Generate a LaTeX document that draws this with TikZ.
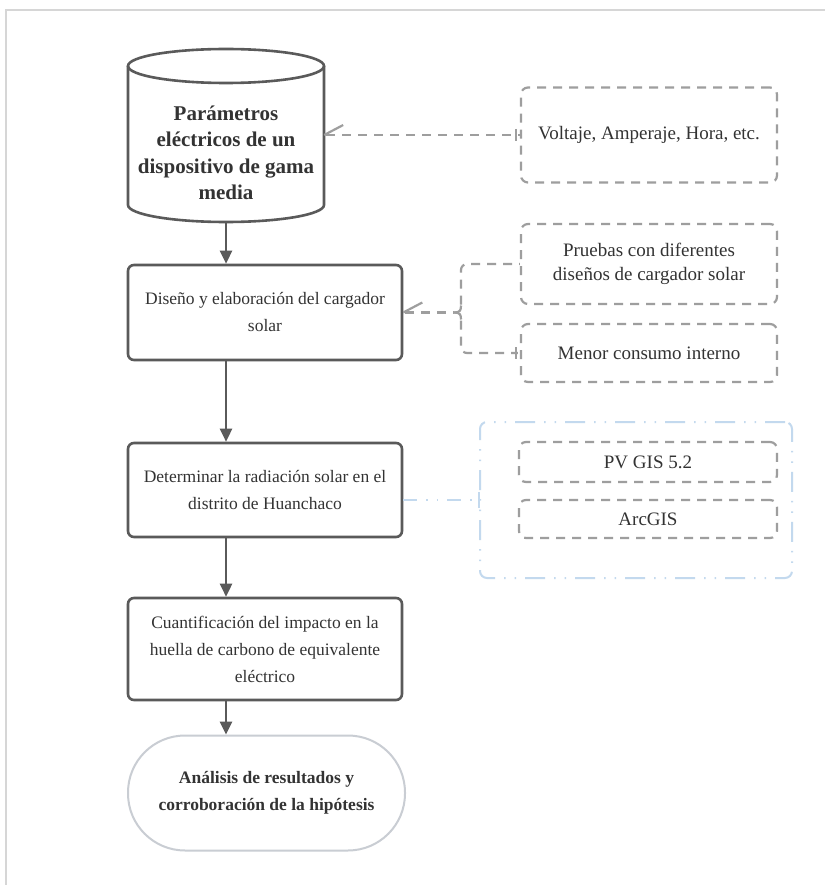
\documentclass[tikz,border=0pt]{standalone}
\usepackage{fontspec}
\setmainfont{Liberation Serif}
\usetikzlibrary{arrows.meta,calc}
\definecolor{maingray}{HTML}{5A5A5A}
\definecolor{textgray}{HTML}{333333}
\definecolor{dashgray}{HTML}{9E9E9E}
\definecolor{framegray}{HTML}{D6D6D6}
\definecolor{termgray}{HTML}{C9CDD3}
\definecolor{lightblue}{HTML}{C3D9EE}
\tikzset{
  mainbox/.style={draw=maingray, line width=2.6pt, rounded corners=6pt, align=center,
    text=textgray, font=\fontsize{17.5}{27}\selectfont, inner sep=0pt},
  sidebox/.style={draw=dashgray, line width=2.2pt, rounded corners=7pt, align=center,
    dash pattern=on 9pt off 7pt, text=textgray, font=\fontsize{19}{24}\selectfont, inner sep=0pt},
  termbox/.style={draw=termgray, line width=2pt, rounded corners=57pt, align=center,
    text=textgray, font=\bfseries\fontsize{17.5}{27}\selectfont, inner sep=0pt},
  groupbox/.style={draw=lightblue, line width=2pt, rounded corners=7pt,
    dash pattern=on 20pt off 9pt on 1.5pt off 9pt on 1.5pt off 9pt, inner sep=0pt},
  arr/.style={draw=maingray, line width=2.6pt, -{Triangle[width=12pt,length=13pt]}},
  dashlink/.style={draw=dashgray, line width=2.2pt, dash pattern=on 9pt off 7pt},
  solidgray/.style={draw=dashgray, line width=2.2pt},
  bluelink/.style={draw=lightblue, line width=2pt, dash pattern=on 14pt off 9pt on 1.5pt off 9pt on 1.5pt off 9pt},
}
\begin{document}
\begin{tikzpicture}[x=1pt,y=-1pt]
\useasboundingbox (0,0) rectangle (824,885);
\fill[white] (0,0) rectangle (824,885);
% outer frame
\draw[framegray, line width=2pt] (6,886) -- (6,10) -- (825,10);

% cylinder
\node[minimum width=196pt, minimum height=174pt, inner sep=0pt] (cyl) at (226,135) {};
\draw[maingray, line width=2.6pt, fill=white]
  (128,66) -- (128,205) arc[start angle=180, end angle=0, x radius=98, y radius=17]
  -- (324,66);
\draw[maingray, line width=2.6pt] (226,66) ellipse[x radius=98, y radius=17];
\node[align=center, text=textgray, font=\bfseries\fontsize{21}{26.5}\selectfont] (cyltext) at (226,153)
  {Parámetros\\eléctricos de un\\dispositivo de gama\\media};

% main boxes
\node[mainbox, minimum width=274pt, minimum height=95pt] (b2) at (265,312.5)
  {Diseño y elaboración del cargador\\solar};
\node[mainbox, minimum width=274pt, minimum height=94pt] (b3) at (265,490)
  {Determinar la radiación solar en el\\distrito de Huanchaco};
\node[mainbox, minimum width=274pt, minimum height=102pt] (b4) at (265,649)
  {Cuantificación del impacto en la\\huella de carbono de equivalente\\eléctrico};
\node[termbox, minimum width=277pt, minimum height=115pt] (b5) at (266.5,793)
  {Análisis de resultados y\\corroboración de la hipótesis};

% arrows
\draw[arr] (cyl.south) -- (cyl.south |- b2.north);
\draw[arr] (cyl.south |- b2.south) -- (cyl.south |- b3.north);
\draw[arr] (cyl.south |- b3.south) -- (cyl.south |- b4.north);
\draw[arr] (cyl.south |- b4.south) -- (cyl.south |- b5.north);

% side boxes
\node[sidebox, minimum width=256pt, minimum height=95pt] (sA) at (649,135)
  {Voltaje, Amperaje, Hora, etc.};
\node[sidebox, minimum width=256pt, minimum height=80pt] (sB) at (649,264)
  {Pruebas con diferentes\\diseños de cargador solar};
\node[sidebox, minimum width=256pt, minimum height=58pt] (sC) at (649,353)
  {Menor consumo interno};
\node[groupbox, minimum width=312pt, minimum height=156pt] (grp) at (636,500) {};
\node[sidebox, minimum width=258pt, minimum height=40pt] (pv) at (648,462)
  {PV GIS 5.2};
\node[sidebox, minimum width=258pt, minimum height=38pt] (arc) at (648,519)
  {ArcGIS};

% connector cylinder -> A
\draw[dashlink] (cyl.east) ++(2,0) -- (sA.west);
\draw[solidgray] (cyl.east) -- ++(19,-10);
\draw[solidgray] ($(sA.west)+(-4,-6)$) -- ($(sA.west)+(-4,6)$);

% connector b2 -> bracket -> B, C
\coordinate (br) at (461,312.5);
\draw[dashlink] (b2.east) ++(2,0) -- ($(br)+(-7,0)$);
\draw[solidgray] (b2.east) -- ++(19,-10);
\draw[solidgray] ($(br)+(-7,0)$) .. controls ($(br)+(-1,0)$) and ($(br)+(0,-2)$) .. ($(br)+(0,-7)$);
\draw[solidgray] ($(br)+(-7,0)$) .. controls ($(br)+(-1,0)$) and ($(br)+(0,2)$) .. ($(br)+(0,7)$);
\draw[dashlink, rounded corners=6pt] ($(br)+(0,-8)$) -- (br |- sB.west) -- (sB.west);
\draw[dashlink, rounded corners=6pt] ($(br)+(0,8)$) -- (br |- sC.west) -- ($(sC.west)+(-2,0)$);
\draw[solidgray] ($(sC.west)+(-4,-6)$) -- ($(sC.west)+(-4,6)$);

% connector b3 -> group
\draw[bluelink] (b3.east |- grp.west) -- (grp.west);
\draw[lightblue, line width=2pt] ($(grp.west)+(0,-8)$) -- ($(grp.west)+(0,8)$);
\end{tikzpicture}
\end{document}
